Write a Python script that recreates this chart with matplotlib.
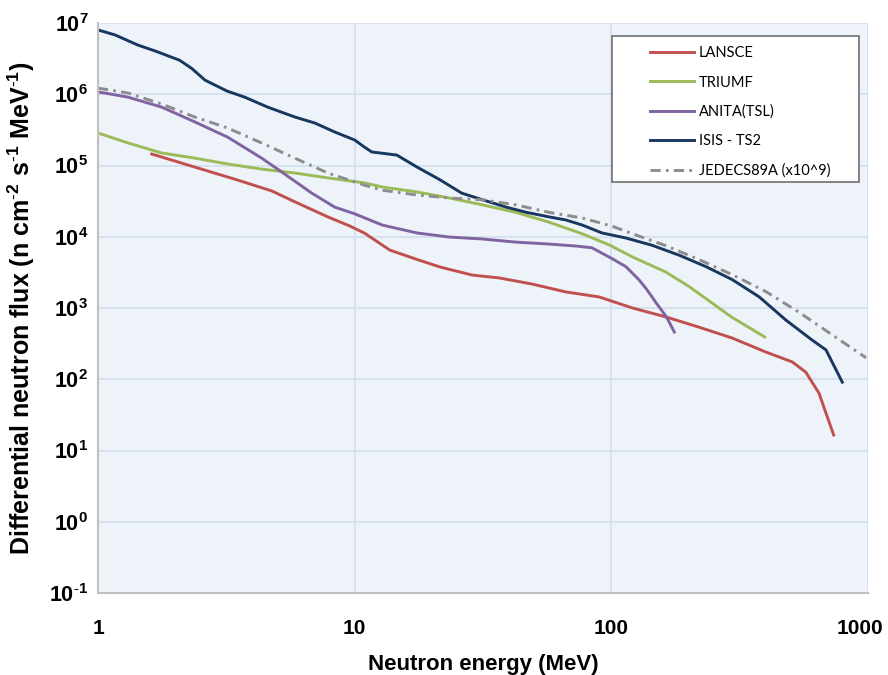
import matplotlib.pyplot as plt
from matplotlib.patches import Rectangle
from matplotlib.transforms import ScaledTranslation

# neutron energy (MeV) / differential flux
lansce_e = [1.62, 2.05, 2.61, 3.5, 4.75, 5.84, 7.86, 9.55, 10.9, 13.7, 17.5, 21.5,
            28.7, 36.6, 49.1, 66.5, 89.6, 121, 163, 219, 295, 400, 507, 572, 644, 735]
lansce_f = [1.45e5, 1.12e5, 8.6e4, 6.25e4, 4.4e4, 3.1e4, 1.9e4, 1.42e4, 1.13e4, 6.5e3, 4.8e3, 3.76e3,
            2.9e3, 2.64e3, 2.17e3, 1.68e3, 1.43e3, 1.0e3, 750, 540, 380, 241, 175, 126, 64, 16.5]

triumf_e = [1, 1.31, 1.77, 2.38, 3.2, 4.34, 5.84, 7.86, 10.9, 12.8, 17.5, 23.4, 31.5,
            42.5, 57.2, 77, 98, 121, 163, 201, 295, 396]
triumf_f = [2.86e5, 2.07e5, 1.5e5, 1.27e5, 1.05e5, 8.9e4, 7.85e4, 6.7e4, 5.7e4, 5.0e4, 4.25e4, 3.5e4, 2.8e4,
            2.2e4, 1.6e4, 1.1e4, 7.7e3, 5.2e3, 3.2e3, 2.0e3, 740, 392]

anita_e = [1, 1.31, 1.77, 2.38, 3.2, 4.34, 5.2, 6.8, 8.37, 10.0, 12.8, 17.5, 23.4, 31.5,
           42.5, 57.2, 73.1, 84, 100, 114, 128, 137, 149, 164, 176]
anita_f = [1.08e6, 9.1e5, 6.6e5, 4.1e5, 2.5e5, 1.27e5, 8.1e4, 4.1e4, 2.6e4, 2.1e4, 1.46e4, 1.13e4, 9.9e3, 9.3e3,
           8.4e3, 7.9e3, 7.4e3, 7.0e3, 5.0e3, 3.8e3, 2.5e3, 1.85e3, 1.2e3, 750, 460]

isis_e = [1, 1.165, 1.43, 1.67, 2.08, 2.32, 2.61, 3.18, 3.73, 4.58, 5.84, 6.99, 8.37, 10.0, 10.9,
          11.65, 14.6, 17.5, 21.5, 26.1, 31.5, 39, 46.7, 57.2, 66.5, 77, 92, 114, 144, 184,
          234, 296, 377, 478, 605, 686, 794]
isis_f = [8.0e6, 6.8e6, 4.9e6, 4.05e6, 3.0e6, 2.3e6, 1.58e6, 1.11e6, 9.1e5, 6.6e5, 4.8e5, 3.95e5, 2.95e5, 2.28e5, 1.82e5,
          1.55e5, 1.40e5, 9.5e4, 6.3e4, 4.1e4, 3.3e4, 2.6e4, 2.2e4, 1.9e4, 1.72e4, 1.46e4, 1.13e4, 9.6e3, 7.6e3, 5.5e3,
          3.8e3, 2.5e3, 1.43e3, 680, 356, 258, 91]

jedec_e = [1, 1.31, 1.77, 2.38, 3.2, 4.34, 5.84, 7.86, 10.9, 12.8, 17.5, 23.4, 31.5, 42.5,
           57.2, 77, 100, 121, 163, 219, 295, 400, 539, 725, 983]
jedec_f = [1.22e6, 1.04e6, 7.3e5, 4.8e5, 3.36e5, 2.07e5, 1.27e5, 7.85e4, 5.3e4, 4.5e4, 3.85e4, 3.5e4, 3.3e4, 2.8e4,
           2.2e4, 1.83e4, 1.42e4, 1.1e4, 7.5e3, 4.8e3, 2.95e3, 1.7e3, 870, 420, 200]

x_ticks = [1, 10, 100, 1000]
y_exps = [-1, 0, 1, 2, 3, 4, 5, 6, 7]

plt.rcParams['mathtext.fontset'] = 'custom'
plt.rcParams['mathtext.rm'] = 'Liberation Sans'
plt.rcParams['mathtext.bf'] = 'Liberation Sans:bold'
plt.rcParams['mathtext.default'] = 'bf'
plt.rcParams['font.family'] = ['Liberation Sans', 'DejaVu Sans']

fig = plt.figure(figsize=(8.88, 6.75), dpi=100)
ax = fig.add_axes([98 / 888, 1 - 593 / 675, 770 / 888, 570 / 675])
ax.set_facecolor('#eef3fa')

lw = 2.1
ax.plot(lansce_e, lansce_f, color='#c0504d', lw=lw, label='LANSCE')
ax.plot(triumf_e, triumf_f, color='#9bbb59', lw=lw, label='TRIUMF')
ax.plot(anita_e, anita_f, color='#8064a2', lw=lw, label='ANITA(TSL)')
ax.plot(isis_e, isis_f, color='#17375e', lw=lw, label='ISIS - TS2')
ax.plot(jedec_e, jedec_f, color='#8c8c8c', lw=lw, dashes=(3.5, 1.8, 0.9, 1.8), label='JEDECS89A (x10^9)')


def sup(e):
    # reference writes exponents with a plain hyphen
    return r'\text{-}%d' % -e if e < 0 else '%d' % e


ax.set_xscale('log')
ax.set_yscale('log')
ax.set_xlim(1, 1000)
ax.set_ylim(1e-1, 1e7)
ax.set_xticks(x_ticks)
ax.set_xticklabels([str(t) for t in x_ticks], fontsize=15, fontweight='bold')
ax.set_yticks([10.0 ** e for e in y_exps])
ax.set_yticklabels([r'$10^{%s}$' % sup(e) for e in y_exps], fontsize=15.5)
ax.minorticks_off()
ax.tick_params(axis='both', length=0)
ax.tick_params(axis='x', pad=19)
ax.tick_params(axis='y', pad=7)
# last x label sits a little left of its tick, as in the reference
last = ax.get_xticklabels()[-1]
last.set_transform(last.get_transform() + ScaledTranslation(-8 / 100, 0, fig.dpi_scale_trans))
ax.grid(True, color='#d3dfef', lw=1.2)
ax.set_axisbelow(True)
for s in ['top', 'right']:
    ax.spines[s].set_visible(False)
for s in ['left', 'bottom']:
    ax.spines[s].set_color('#c0c0c0')
    ax.spines[s].set_linewidth(1.5)

ax.set_xlabel('Neutron energy (MeV)', fontsize=16, fontweight='bold', labelpad=11)
ax.set_ylabel(r'Differential neutron flux (n cm$^{\text{-}2}$ s$^{\text{-}1}$ MeV$^{\text{-}1}$)',
              fontsize=18, fontweight='bold', labelpad=9)

# legend box
box = Rectangle(((612 - 98) / 770, (593 - 182) / 570), 247 / 770, 146 / 570,
                transform=ax.transAxes, facecolor='white', edgecolor='#6f6f6f', lw=1.2, zorder=4)
ax.add_patch(box)
leg = ax.legend(loc='upper left', bbox_to_anchor=((646 - 98) / 770, (593 - 42) / 570),
                frameon=False, handlelength=3.0, handletextpad=0.3,
                labelspacing=1.04, borderpad=0.3, borderaxespad=0,
                prop={'family': 'Lato', 'size': 10.5})
leg.set_zorder(5)

fig.savefig('out.png', dpi=100)
